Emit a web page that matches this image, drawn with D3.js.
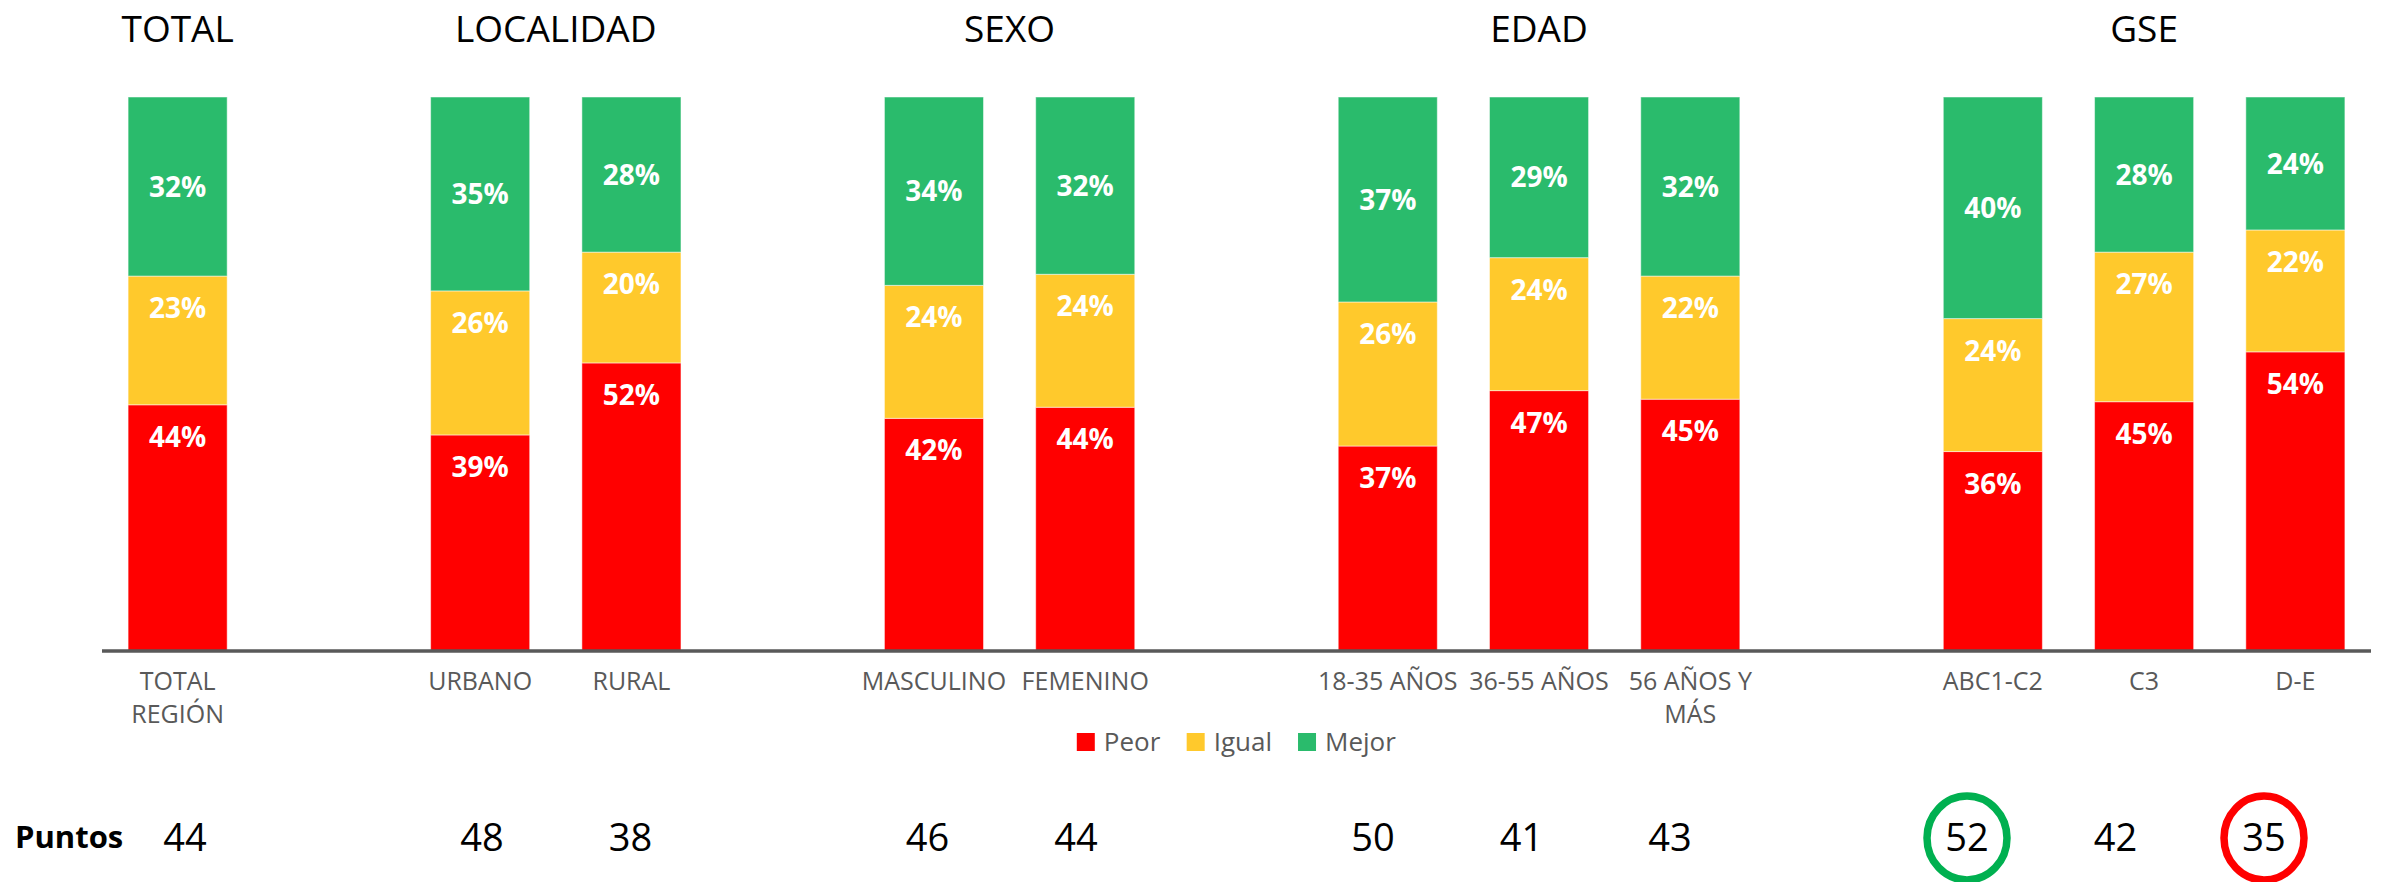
<!DOCTYPE html>
<html lang="es">
<head>
<meta charset="utf-8">
<title>Peor / Igual / Mejor por segmento</title>
<script src="https://cdn.jsdelivr.net/npm/d3@7"></script>
<style>
  html, body { margin: 0; padding: 0; background: #fff; }
  svg { display: block; font-family: "Open Sans", "Noto Sans", sans-serif; }
</style>
</head>
<body>
<div id="chart"></div>
<script>
// ── Data ──
const categories = ["TOTAL REGIÓN", "URBANO", "RURAL", "MASCULINO", "FEMENINO",
  "18-35 AÑOS", "36-55 AÑOS", "56 AÑOS Y MÁS", "ABC1-C2", "C3", "D-E"];
const groupOf = ["TOTAL", "LOCALIDAD", "LOCALIDAD", "SEXO", "SEXO",
  "EDAD", "EDAD", "EDAD", "GSE", "GSE", "GSE"];
const groupNames = ["TOTAL", "LOCALIDAD", "SEXO", "EDAD", "GSE"];

const peor  = [44, 39, 52, 42, 44, 37, 47, 45, 36, 45, 54];
const igual = [23, 26, 20, 24, 24, 26, 24, 22, 24, 27, 22];
const mejor = [32, 35, 28, 34, 32, 37, 29, 32, 40, 28, 24];
const puntos = [44, 48, 38, 46, 44, 50, 41, 43, 52, 42, 35];

const seriesKeys = ["Peor", "Igual", "Mejor"];
const seriesColors = ["#FF0000", "#FFC92C", "#2ABB6C"];

// ── Layout ──
const W = 2382, H = 882;
const AXIS_Y = 651, TOP_Y = 97;
const TEXT_GREY = "#595959";

const rows = categories.map((c, i) => ({
  cat: c, group: groupOf[i], Peor: peor[i], Igual: igual[i], Mejor: mejor[i], puntos: puntos[i],
}));

// slots: categories with an empty slot between groups
const slots = [];
groupNames.forEach((g, gi) => {
  if (gi > 0) slots.push("_gap" + gi);
  rows.filter((r) => r.group === g).forEach((r) => slots.push(r.cat));
});

const svg = d3.select("#chart").append("svg")
  .attr("width", W).attr("height", H)
  .attr("viewBox", `0 0 ${W} ${H}`);

const x = d3.scaleBand().domain(slots).range([102, 2371])
  .paddingInner(0.345).paddingOuter(0.1725);
const y = d3.scaleLinear().domain([0, 1]).range([AXIS_Y, TOP_Y]);
const color = d3.scaleOrdinal().domain(seriesKeys).range(seriesColors);

// 100% stacked
const stacked = d3.stack().keys(seriesKeys).offset(d3.stackOffsetExpand)(rows);

// ── Bars ──
const layers = svg.append("g").selectAll("g.layer")
  .data(stacked).enter().append("g")
  .attr("class", "layer")
  .attr("fill", (s) => color(s.key));

layers.selectAll("rect")
  .data((s) => s.map((d) => Object.assign(d, { key: s.key })))
  .enter().append("rect")
  .attr("x", (d) => x(d.data.cat))
  .attr("width", x.bandwidth())
  .attr("y", (d) => y(d[1]))
  .attr("height", (d) => y(d[0]) - y(d[1]))
  .attr("stroke", "#fff").attr("stroke-opacity", 0.5).attr("stroke-width", 1);

// ── Segment labels: top series centred, the others inside end ──
const INSIDE_END = 32;
layers.selectAll("text")
  .data((s) => s)
  .enter().append("text")
  .attr("x", (d) => x(d.data.cat) + x.bandwidth() / 2)
  .attr("y", (d) => (d.key === "Mejor"
    ? (y(d[0]) + y(d[1])) / 2
    : y(d[1]) + INSIDE_END))
  .attr("dy", "0.36em")
  .attr("text-anchor", "middle")
  .attr("fill", "#fff")
  .attr("font-weight", 700)
  .attr("font-size", 28)
  .text((d) => d.data[d.key] + "%");

// ── Axis line ──
svg.append("line")
  .attr("x1", x.range()[0]).attr("x2", x.range()[1])
  .attr("y1", AXIS_Y).attr("y2", AXIS_Y)
  .attr("stroke", TEXT_GREY).attr("stroke-width", 3.5);

// ── Category labels (wrapped to slot width) ──
const catLabels = svg.append("g").selectAll("text")
  .data(rows).enter().append("text")
  .attr("text-anchor", "middle")
  .attr("fill", TEXT_GREY)
  .attr("font-size", 25)
  .attr("y", 690);

catLabels.each(function (d) {
  const el = d3.select(this);
  const cx = x(d.cat) + x.bandwidth() / 2;
  const words = d.cat.split(" ");
  const lines = [];
  let line = [];
  const probe = el.append("tspan");
  words.forEach((w) => {
    const test = line.concat(w).join(" ");
    probe.text(test);
    if (probe.node().getComputedTextLength() > x.step() && line.length) {
      lines.push(line.join(" "));
      line = [w];
    } else {
      line.push(w);
    }
  });
  lines.push(line.join(" "));
  probe.remove();
  lines.forEach((t, i) => {
    el.append("tspan").attr("x", cx).attr("dy", i ? 33 : 0).text(t);
  });
});

// ── Group titles ──
svg.append("g").selectAll("text")
  .data(groupNames).enter().append("text")
  .attr("x", (g) => d3.mean(rows.filter((r) => r.group === g), (r) => x(r.cat) + x.bandwidth() / 2))
  .attr("y", 42)
  .attr("text-anchor", "middle")
  .attr("font-size", 37)
  .attr("fill", "#000")
  .text((g) => g);

// ── Legend ──
const legend = svg.append("g");
const legendItems = legend.selectAll("g")
  .data(seriesKeys).enter().append("g");
legendItems.append("rect")
  .attr("y", 733).attr("width", 18).attr("height", 18)
  .attr("fill", (k) => color(k));
legendItems.append("text")
  .attr("x", 27).attr("y", 751)
  .attr("font-size", 26).attr("fill", TEXT_GREY)
  .text((k) => k);
let lx = 0;
legendItems.each(function () {
  d3.select(this).attr("transform", `translate(${lx},0)`);
  lx += this.getBBox().width + 26;
});
lx -= 26;
const plotMid = (x.range()[0] + x.range()[1]) / 2;
legend.attr("transform", `translate(${plotMid - lx / 2},0)`);

// ── Puntos row ──
const xp = d3.scalePoint().domain(slots).range([185, 2264]);
const PUNTOS_Y = 851;

svg.append("text")
  .attr("x", 15).attr("y", PUNTOS_Y - 3)
  .attr("font-size", 31).attr("font-weight", 700)
  .attr("fill", "#000")
  .text("Puntos");

svg.append("g").selectAll("text")
  .data(rows).enter().append("text")
  .attr("x", (d) => xp(d.cat))
  .attr("y", PUNTOS_Y)
  .attr("text-anchor", "middle")
  .attr("font-size", 38)
  .attr("fill", "#000")
  .text((d) => d.puntos);

// circle highest (green) and lowest (red) score
const pMax = d3.max(puntos), pMin = d3.min(puntos);
const marked = rows.filter((d) => d.puntos === pMax || d.puntos === pMin);
svg.append("g").selectAll("ellipse")
  .data(marked).enter().append("ellipse")
  .attr("cx", (d) => xp(d.cat))
  .attr("cy", PUNTOS_Y - 13)
  .attr("rx", 40).attr("ry", 42)
  .attr("fill", "none")
  .attr("stroke", (d) => (d.puntos === pMax ? "#00B050" : "#FF0000"))
  .attr("stroke-width", 7.5);
</script>
</body>
</html>
